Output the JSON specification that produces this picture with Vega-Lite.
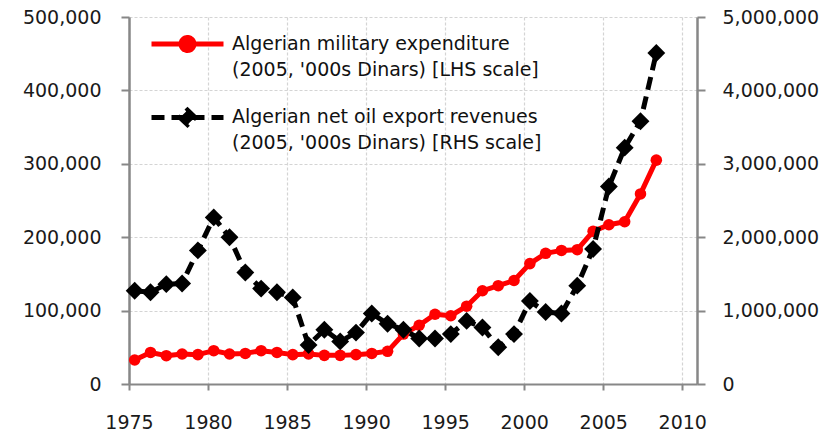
{
  "$schema": "https://vega.github.io/schema/vega-lite/v6.json",
  "width": 568,
  "height": 367,
  "autosize": {"type": "none"},
  "padding": {"left": 129, "top": 17, "right": 134, "bottom": 47},
  "background": "white",
  "config": {
    "view": {"stroke": null},
    "axis": {
      "labelFont": "DejaVu Sans",
      "labelFontSize": 19,
      "labelColor": "#1a1a1a",
      "domainColor": "#878787",
      "domainWidth": 2.5,
      "tickColor": "#878787",
      "tickWidth": 2,
      "gridColor": "#d4d4d4",
      "gridDash": [3, 2],
      "gridWidth": 1.2,
      "labelFlush": false,
      "title": null
    }
  },
  "data": {
    "values": [
      {"date": "1975-05-12", "mil": 32700, "oil": 1270000},
      {"date": "1976-05-12", "mil": 43000, "oil": 1250000},
      {"date": "1977-05-12", "mil": 38600, "oil": 1360000},
      {"date": "1978-05-12", "mil": 40900, "oil": 1370000},
      {"date": "1979-05-12", "mil": 40000, "oil": 1820000},
      {"date": "1980-05-12", "mil": 45400, "oil": 2270000},
      {"date": "1981-05-12", "mil": 40900, "oil": 2000000},
      {"date": "1982-05-12", "mil": 41700, "oil": 1520000},
      {"date": "1983-05-12", "mil": 45400, "oil": 1300000},
      {"date": "1984-05-12", "mil": 43000, "oil": 1250000},
      {"date": "1985-05-12", "mil": 40000, "oil": 1180000},
      {"date": "1986-05-12", "mil": 41000, "oil": 530000},
      {"date": "1987-05-12", "mil": 39000, "oil": 740000},
      {"date": "1988-05-12", "mil": 39000, "oil": 580000},
      {"date": "1989-05-12", "mil": 40000, "oil": 700000},
      {"date": "1990-05-12", "mil": 41700, "oil": 960000},
      {"date": "1991-05-12", "mil": 44500, "oil": 820000},
      {"date": "1992-05-12", "mil": 68000, "oil": 740000},
      {"date": "1993-05-12", "mil": 80000, "oil": 620000},
      {"date": "1994-05-12", "mil": 95000, "oil": 620000},
      {"date": "1995-05-12", "mil": 93000, "oil": 680000},
      {"date": "1996-05-12", "mil": 106000, "oil": 860000},
      {"date": "1997-05-12", "mil": 127000, "oil": 770000},
      {"date": "1998-05-12", "mil": 134000, "oil": 500000},
      {"date": "1999-05-12", "mil": 141000, "oil": 680000},
      {"date": "2000-05-12", "mil": 164000, "oil": 1130000},
      {"date": "2001-05-12", "mil": 178000, "oil": 980000},
      {"date": "2002-05-12", "mil": 182000, "oil": 960000},
      {"date": "2003-05-12", "mil": 183000, "oil": 1340000},
      {"date": "2004-05-12", "mil": 208000, "oil": 1840000},
      {"date": "2005-05-12", "mil": 217000, "oil": 2690000},
      {"date": "2006-05-12", "mil": 221000, "oil": 3220000},
      {"date": "2007-05-12", "mil": 259000, "oil": 3580000},
      {"date": "2008-05-12", "mil": 305000, "oil": 4510000}
    ]
  },
  "encoding": {
    "x": {
      "field": "date",
      "type": "temporal",
      "scale": {
        "type": "utc",
        "domain": [
          {"year": 1975, "month": 1, "date": 1, "utc": true},
          {"year": 2010, "month": 12, "date": 8, "utc": true}
        ]
      },
      "axis": {
        "orient": "bottom",
        "grid": true,
        "format": "%Y",
        "tickSize": 6,
        "labelPadding": 23,
        "domainWidth": 2,
        "values": [
          {"year": 1975, "utc": true},
          {"year": 1980, "utc": true},
          {"year": 1985, "utc": true},
          {"year": 1990, "utc": true},
          {"year": 1995, "utc": true},
          {"year": 2000, "utc": true},
          {"year": 2005, "utc": true},
          {"year": 2010, "utc": true}
        ]
      }
    }
  },
  "layer": [
    {
      "encoding": {
        "y": {
          "field": "mil",
          "type": "quantitative",
          "scale": {"domain": [0, 500000], "nice": false},
          "axis": {
            "orient": "left",
            "grid": true,
            "format": ",d",
            "values": [0, 100000, 200000, 300000, 400000, 500000],
            "tickSize": 8,
            "labelPadding": 20
          }
        },
        "color": {
          "datum": "Algerian military expenditure|(2005, '000s Dinars) [LHS scale]",
          "type": "nominal",
          "scale": {
            "domain": [
              "Algerian military expenditure|(2005, '000s Dinars) [LHS scale]",
              "Algerian net oil export revenues|(2005, '000s Dinars) [RHS scale]"
            ],
            "range": ["#ff0000", "#000000"]
          },
          "legend": {
            "orient": "none",
            "legendX": 20,
            "legendY": -8,
            "title": null,
            "padding": 0,
            "labelExpr": "split(datum.label, '|')",
            "labelFont": "DejaVu Sans",
            "labelFontSize": 19,
            "labelColor": "#111111",
            "labelLimit": 500,
            "labelOffset": 6,
            "symbolSize": 5184,
            "symbolStrokeWidth": 5,
            "clipHeight": 70,
            "rowPadding": 2.4,
            "encode": {
              "labels": {"update": {"lineHeight": {"value": 26}}},
              "symbols": {
                "update": {
                  "shape": {"signal": "datum.index === 0 ? 'M-1,0H1M0.18,0A0.18,0.18,0,1,1,-0.18,0A0.18,0.18,0,1,1,0.18,0Z' : 'M-1,0H1M0,-0.2L0.21,0L0,0.2L-0.21,0Z'"},
                  "strokeDash": {"signal": "datum.index === 0 ? [1, 0] : [13, 7]"},
                  "fill": {"signal": "datum.index === 0 ? '#ff0000' : '#000000'"},
                  "stroke": {"signal": "datum.index === 0 ? '#ff0000' : '#000000'"},
                  "strokeWidth": {"value": 5},
                  "opacity": {"value": 1},
                  "fillOpacity": {"value": 1}
                }
              }
            }
          }
        }
      },
      "layer": [
        {"mark": {"type": "line", "strokeWidth": 5, "strokeJoin": "round"}, "encoding": {}},
        {"mark": {"type": "point", "shape": "circle", "filled": true, "size": 133, "opacity": 1}, "encoding": {}}
      ]
    },
    {
      "encoding": {
        "y": {
          "field": "oil",
          "type": "quantitative",
          "scale": {"domain": [0, 5000000], "nice": false},
          "axis": {
            "orient": "right",
            "grid": false,
            "format": ",d",
            "values": [0, 1000000, 2000000, 3000000, 4000000, 5000000],
            "tickSize": 8,
            "labelPadding": 17
          }
        },
        "color": {
          "datum": "Algerian net oil export revenues|(2005, '000s Dinars) [RHS scale]",
          "type": "nominal"
        }
      },
      "layer": [
        {"mark": {"type": "line", "strokeWidth": 5, "strokeDash": [13, 7], "strokeJoin": "round"}, "encoding": {}},
        {"mark": {"type": "point", "shape": "diamond", "filled": true, "size": 320, "opacity": 1}, "encoding": {}}
      ]
    }
  ],
  "resolve": {"scale": {"y": "independent"}}
}
